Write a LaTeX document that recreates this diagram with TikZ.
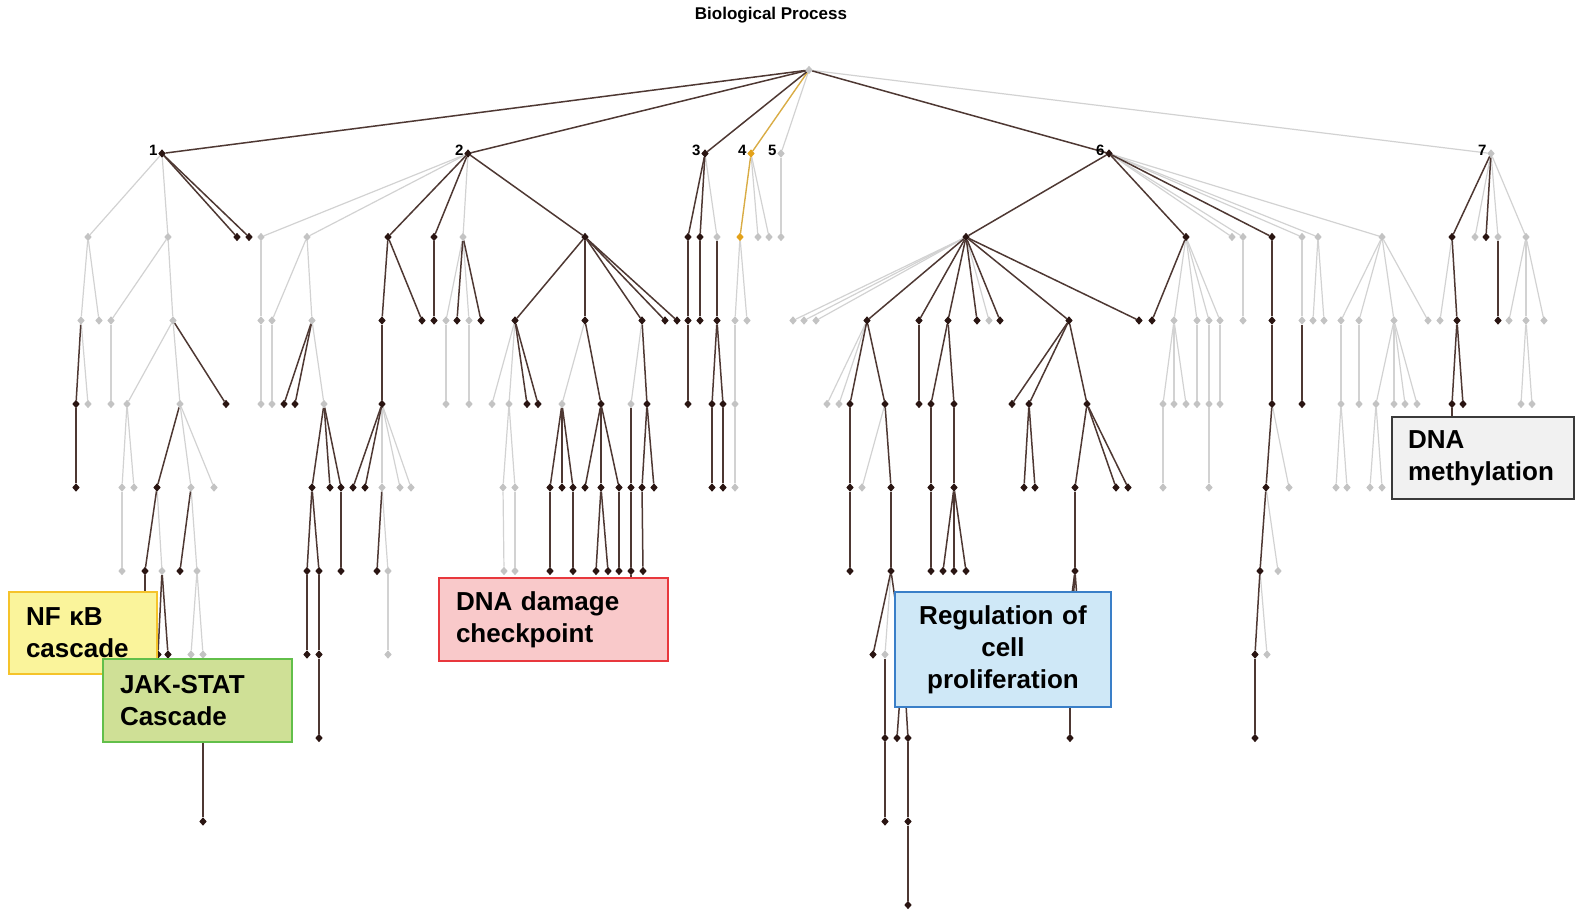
\documentclass[tikz,border=0pt]{standalone}
\usepackage{fontspec}
\setmainfont{Liberation Sans}
\usetikzlibrary{shapes.geometric,backgrounds}
\definecolor{dkn}{HTML}{2A1512}
\definecolor{dke}{HTML}{4E3833}
\definecolor{gyn}{HTML}{C3C3C3}
\definecolor{gye}{HTML}{D2D2D2}
\definecolor{orn}{HTML}{E3A21A}
\definecolor{ore}{HTML}{D9AC45}
\definecolor{nff}{HTML}{FAF49B}
\definecolor{nfb}{HTML}{F5C32A}
\definecolor{jkf}{HTML}{CFE096}
\definecolor{jkb}{HTML}{62BF4A}
\definecolor{ddf}{HTML}{F9C9CA}
\definecolor{ddb}{HTML}{E8383D}
\definecolor{rgf}{HTML}{CFE8F7}
\definecolor{rgb}{HTML}{3A7FC8}
\definecolor{dmf}{HTML}{F1F1F1}
\definecolor{dmb}{HTML}{3A3A3A}
\tikzset{
  nd/.style={shape=diamond, inner sep=0pt, minimum width=7.5pt, minimum height=8.5pt, draw=none},
  dkN/.style={nd, fill=dkn},
  gyN/.style={nd, fill=gyn},
  orN/.style={nd, fill=orn},
  deE/.style={draw=dke, line width=1.5pt},
  gyE/.style={draw=gye, line width=1.2pt},
  orE/.style={draw=ore, line width=1.4pt},
  lvl/.style={font=\bfseries\fontsize{15}{15}\selectfont, text=black, inner sep=0pt, anchor=east},
  ann/.style={font=\bfseries\fontsize{26}{32}\selectfont, line width=1.3pt, inner ysep=0pt, text=black}
}
\newcommand{\mkn}[4]{\node[#1] (#2) at (#3,#4) {};}
\begin{document}
\begin{tikzpicture}[x=1pt, y=-83.5pt]
\useasboundingbox (0pt,70pt) rectangle (1575pt,-841pt);
\node[font=\bfseries\fontsize{17}{17}\selectfont] (title) at (771pt,55pt) {Biological Process};
% root and level 1
\mkn{gyN}{r}{809}{0}
\mkn{dkN}{n1}{162}{1}
\mkn{dkN}{n2}{468}{1}
\mkn{dkN}{n3}{705}{1}
\mkn{orN}{n4}{751}{1}
\mkn{gyN}{n5}{781}{1}
\mkn{dkN}{n6}{1109}{1}
\mkn{gyN}{n7}{1491}{1}
\foreach \n/\t in {n1/1,n2/2,n3/3,n4/4,n5/5,n6/6,n7/7}
  \node[lvl] (lab\t) at ([xshift=-0.5pt,yshift=3.5pt]\n.west) {\t};
% subtree 1
\mkn{gyN}{a1}{88}{2}\mkn{gyN}{a2}{168}{2}\mkn{dkN}{a3}{237}{2}\mkn{dkN}{a4}{249}{2}
\mkn{gyN}{a11}{81}{3}\mkn{gyN}{a12}{99}{3}\mkn{gyN}{a21}{111}{3}\mkn{gyN}{a22}{173}{3}
\mkn{dkN}{a111}{76}{4}\mkn{gyN}{a112}{88}{4}\mkn{gyN}{a211}{111}{4}\mkn{gyN}{a221}{127}{4}\mkn{gyN}{a222}{180}{4}\mkn{dkN}{a223}{226}{4}
\mkn{dkN}{a1111}{76}{5}\mkn{gyN}{a2211}{122}{5}\mkn{gyN}{a2212}{134}{5}\mkn{dkN}{a2221}{157}{5}\mkn{gyN}{a2222}{191}{5}\mkn{gyN}{a2223}{214}{5}
\mkn{gyN}{p1}{122}{6}\mkn{dkN}{p2}{145}{6}\mkn{gyN}{p3}{162}{6}\mkn{dkN}{p4}{180}{6}\mkn{gyN}{p5}{197}{6}
\mkn{dkN}{q1}{145}{7}\mkn{dkN}{q2}{158}{7}\mkn{dkN}{q3}{168}{7}\mkn{gyN}{q4}{191}{7}\mkn{gyN}{q5}{203}{7}
\mkn{dkN}{q51}{203}{8}\mkn{dkN}{q511}{203}{9}
% subtree 2
\mkn{gyN}{b1}{261}{2}\mkn{gyN}{b2}{307}{2}\mkn{dkN}{b3}{388}{2}\mkn{dkN}{b4}{434}{2}\mkn{gyN}{b5}{463}{2}\mkn{dkN}{b6}{585}{2}
\mkn{gyN}{b11}{261}{3}\mkn{gyN}{b21}{272}{3}\mkn{gyN}{b22}{312}{3}\mkn{dkN}{b31}{382}{3}\mkn{dkN}{b32}{422}{3}\mkn{dkN}{b41}{434}{3}
\mkn{gyN}{b51}{446}{3}\mkn{dkN}{b52}{457}{3}\mkn{gyN}{b53}{469}{3}\mkn{dkN}{b54}{481}{3}
\mkn{dkN}{b61}{515}{3}\mkn{dkN}{b62}{585}{3}\mkn{dkN}{b63}{642}{3}\mkn{dkN}{b64}{665}{3}\mkn{dkN}{b65}{677}{3}
\mkn{gyN}{b111}{261}{4}\mkn{gyN}{b211}{272}{4}\mkn{dkN}{b221}{284}{4}\mkn{dkN}{b222}{295}{4}\mkn{gyN}{b223}{324}{4}\mkn{dkN}{b311}{382}{4}
\mkn{gyN}{b511}{446}{4}\mkn{gyN}{b531}{469}{4}\mkn{gyN}{b611}{492}{4}\mkn{gyN}{b612}{509}{4}\mkn{dkN}{b613}{527}{4}\mkn{dkN}{b614}{538}{4}
\mkn{gyN}{b621}{562}{4}\mkn{dkN}{b622}{601}{4}\mkn{gyN}{b631}{631}{4}\mkn{dkN}{b632}{647}{4}
\mkn{dkN}{c5a}{312}{5}\mkn{dkN}{c5b}{330}{5}\mkn{dkN}{c5c}{341}{5}\mkn{dkN}{c5d}{353}{5}\mkn{dkN}{c5e}{365}{5}
\mkn{gyN}{c5f}{382}{5}\mkn{gyN}{c5g}{400}{5}\mkn{gyN}{c5h}{411}{5}\mkn{gyN}{c5i}{503}{5}\mkn{gyN}{c5j}{515}{5}
\mkn{dkN}{c5k}{550}{5}\mkn{dkN}{c5l}{562}{5}\mkn{dkN}{c5m}{573}{5}\mkn{dkN}{c5n}{585}{5}\mkn{dkN}{c5o}{601}{5}\mkn{dkN}{c5p}{619}{5}
\mkn{dkN}{c5q}{631}{5}\mkn{dkN}{c5r}{642}{5}\mkn{dkN}{c5s}{654}{5}
\mkn{dkN}{c6a}{307}{6}\mkn{dkN}{c6b}{319}{6}\mkn{dkN}{c6c}{341}{6}\mkn{dkN}{c6d}{377}{6}\mkn{gyN}{c6e}{388}{6}
\mkn{gyN}{c6f}{504}{6}\mkn{gyN}{c6g}{515}{6}\mkn{dkN}{c6h}{550}{6}\mkn{dkN}{c6i}{573}{6}\mkn{dkN}{c6j}{596}{6}\mkn{dkN}{c6k}{608}{6}
\mkn{dkN}{c6l}{619}{6}\mkn{dkN}{c6m}{631}{6}\mkn{dkN}{c6n}{643}{6}
\mkn{dkN}{c7a}{307}{7}\mkn{dkN}{c7b}{319}{7}\mkn{gyN}{c7c}{388}{7}\mkn{dkN}{c7d}{631}{7}
\mkn{dkN}{c8a}{319}{8}
% subtree 3
\mkn{dkN}{d1}{688}{2}\mkn{dkN}{d2}{700}{2}\mkn{gyN}{d3}{717}{2}
\mkn{dkN}{d11}{688}{3}\mkn{dkN}{d21}{700}{3}\mkn{dkN}{d31}{717}{3}
\mkn{dkN}{d111}{688}{4}\mkn{dkN}{d311}{712}{4}\mkn{dkN}{d312}{723}{4}
\mkn{dkN}{d3111}{712}{5}\mkn{dkN}{d3121}{723}{5}
% subtree 4 and 5
\mkn{orN}{e1}{740}{2}\mkn{gyN}{e2}{758}{2}\mkn{gyN}{e3}{769}{2}
\mkn{gyN}{e11}{735}{3}\mkn{gyN}{e12}{747}{3}\mkn{gyN}{e111}{735}{4}\mkn{gyN}{e1111}{735}{5}
\mkn{gyN}{f1}{781}{2}
% subtree 6
\mkn{dkN}{g1}{966}{2}\mkn{dkN}{g2}{1186}{2}\mkn{gyN}{g3}{1232}{2}\mkn{gyN}{g4}{1243}{2}\mkn{dkN}{g5}{1272}{2}
\mkn{gyN}{g6}{1302}{2}\mkn{gyN}{g7}{1318}{2}\mkn{gyN}{g8}{1382}{2}
\mkn{gyN}{h1}{793}{3}\mkn{gyN}{h2}{804}{3}\mkn{gyN}{h3}{816}{3}\mkn{dkN}{h4}{867}{3}\mkn{dkN}{h5}{919}{3}\mkn{dkN}{h6}{948}{3}
\mkn{dkN}{h7}{977}{3}\mkn{gyN}{h8}{989}{3}\mkn{dkN}{h9}{1000}{3}\mkn{dkN}{h10}{1069}{3}\mkn{dkN}{h11}{1139}{3}
\mkn{dkN}{i1}{1152}{3}\mkn{gyN}{i2}{1174}{3}\mkn{gyN}{i3}{1197}{3}\mkn{gyN}{i4}{1209}{3}\mkn{gyN}{i5}{1220}{3}
\mkn{gyN}{j1}{1243}{3}\mkn{dkN}{k1}{1272}{3}\mkn{gyN}{l1}{1302}{3}\mkn{gyN}{m1}{1313}{3}\mkn{gyN}{m2}{1324}{3}
\mkn{gyN}{o1}{1341}{3}\mkn{gyN}{o2}{1359}{3}\mkn{gyN}{o3}{1394}{3}\mkn{gyN}{o4}{1428}{3}
\mkn{gyN}{h41}{827}{4}\mkn{gyN}{h42}{839}{4}\mkn{dkN}{h43}{850}{4}\mkn{dkN}{h44}{885}{4}\mkn{dkN}{h51}{919}{4}
\mkn{dkN}{h61}{931}{4}\mkn{dkN}{h62}{954}{4}\mkn{dkN}{h101}{1012}{4}\mkn{dkN}{h102}{1029}{4}\mkn{dkN}{h103}{1087}{4}
\mkn{gyN}{i21}{1163}{4}\mkn{gyN}{i22}{1174}{4}\mkn{gyN}{i23}{1186}{4}\mkn{gyN}{i31}{1197}{4}\mkn{gyN}{i41}{1209}{4}\mkn{gyN}{i51}{1220}{4}
\mkn{dkN}{k11}{1272}{4}\mkn{dkN}{l11}{1302}{4}\mkn{gyN}{o11}{1341}{4}\mkn{gyN}{o21}{1359}{4}
\mkn{gyN}{o31}{1376}{4}\mkn{gyN}{o32}{1394}{4}\mkn{gyN}{o33}{1405}{4}\mkn{gyN}{o34}{1417}{4}
\mkn{dkN}{h431}{850}{5}\mkn{gyN}{h441}{862}{5}\mkn{dkN}{h442}{891}{5}\mkn{dkN}{h611}{931}{5}\mkn{dkN}{h621}{954}{5}
\mkn{dkN}{h1021}{1024}{5}\mkn{dkN}{h1022}{1035}{5}\mkn{dkN}{h1031}{1075}{5}\mkn{dkN}{h1032}{1116}{5}\mkn{dkN}{h1033}{1128}{5}
\mkn{gyN}{i211}{1163}{5}\mkn{gyN}{i411}{1209}{5}\mkn{dkN}{k111}{1266}{5}\mkn{gyN}{k112}{1289}{5}
\mkn{gyN}{o111}{1336}{5}\mkn{gyN}{o112}{1347}{5}\mkn{gyN}{o311}{1370}{5}\mkn{gyN}{o312}{1382}{5}
\mkn{dkN}{h4311}{850}{6}\mkn{dkN}{h4421}{891}{6}\mkn{dkN}{h6111}{931}{6}\mkn{dkN}{h6211}{943}{6}\mkn{dkN}{h6212}{954}{6}\mkn{dkN}{h6213}{966}{6}
\mkn{dkN}{h10311}{1075}{6}\mkn{dkN}{k1111}{1260}{6}\mkn{gyN}{k1112}{1278}{6}
\mkn{dkN}{s1}{873}{7}\mkn{gyN}{s2}{885}{7}\mkn{dkN}{s3}{903}{7}\mkn{dkN}{t1}{1064}{7}\mkn{dkN}{t2}{1070}{7}\mkn{dkN}{t3}{1081}{7}
\mkn{dkN}{u1}{1255}{7}\mkn{gyN}{u2}{1267}{7}
\mkn{dkN}{s21}{885}{8}\mkn{dkN}{s31}{897}{8}\mkn{dkN}{s32}{908}{8}\mkn{dkN}{t21}{1070}{8}\mkn{dkN}{u11}{1255}{8}
\mkn{dkN}{s211}{885}{9}\mkn{dkN}{s321}{908}{9}\mkn{dkN}{s3211}{908}{10}
% subtree 7
\mkn{dkN}{w1}{1452}{2}\mkn{gyN}{w2}{1475}{2}\mkn{dkN}{w3}{1486}{2}\mkn{gyN}{w4}{1498}{2}\mkn{gyN}{w5}{1526}{2}
\mkn{gyN}{w11}{1440}{3}\mkn{dkN}{w12}{1457}{3}\mkn{dkN}{w41}{1498}{3}\mkn{gyN}{w51}{1509}{3}\mkn{gyN}{w52}{1526}{3}\mkn{gyN}{w53}{1544}{3}
\mkn{dkN}{w121}{1452}{4}\mkn{dkN}{w122}{1463}{4}\mkn{gyN}{w521}{1521}{4}\mkn{gyN}{w522}{1532}{4}
\mkn{dkN}{w1211}{1452}{5}
% edges
\begin{pgfonlayer}{background}
\foreach \a/\b in {r/n5,r/n7,
 n1/a1,n1/a2,a1/a11,a1/a12,a2/a21,a2/a22,a11/a112,a21/a211,a22/a221,a22/a222,
 a221/a2211,a221/a2212,a222/a2222,a222/a2223,a2211/p1,a2221/p3,a2222/p5,p5/q4,p5/q5,
 n2/b1,n2/b2,n2/b5,b1/b11,b2/b21,b2/b22,b5/b51,b5/b53,
 b11/b111,b21/b211,b22/b223,b51/b511,b53/b531,b61/b611,b61/b612,b62/b621,b63/b631,
 b311/c5f,b311/c5g,b311/c5h,b612/c5i,b612/c5j,c5f/c6e,c5i/c6f,c5j/c6g,c6e/c7c,
 n3/d3,n4/e2,n4/e3,e1/e11,e1/e12,e11/e111,e111/e1111,n5/f1,
 n6/g3,n6/g4,n6/g6,n6/g7,n6/g8,g1/h1,g1/h2,g1/h3,g1/h8,
 g2/i2,g2/i3,g2/i4,g2/i5,g4/j1,g6/l1,g7/m1,g7/m2,g8/o1,g8/o2,g8/o3,g8/o4,
 h4/h41,h4/h42,i2/i21,i2/i22,i2/i23,i3/i31,i4/i41,i5/i51,o1/o11,o2/o21,o3/o31,o3/o32,o3/o33,o3/o34,
 h44/h441,i21/i211,i41/i411,k11/k112,o11/o111,o11/o112,o31/o311,o31/o312,
 k111/k1112,h4421/s2,k1111/u2,
 n7/w2,n7/w4,n7/w5,w1/w11,w5/w51,w5/w52,w5/w53,w52/w521,w52/w522}
  \draw[gyE] (\a) -- (\b);
\foreach \a/\b in {r/n4,n4/e1}
  \draw[orE] (\a) -- (\b);
\foreach \a/\b in {r/n1,r/n2,r/n3,r/n6,
 n1/a3,n1/a4,a11/a111,a22/a223,a111/a1111,a222/a2221,
 a2221/p2,a2222/p4,p2/q1,p3/q2,p3/q3,q5/q51,q51/q511,
 n2/b3,n2/b4,n2/b6,b3/b31,b3/b32,b4/b41,b5/b52,b5/b54,b6/b61,b6/b62,b6/b63,b6/b64,b6/b65,
 b22/b221,b22/b222,b31/b311,b61/b613,b61/b614,b62/b622,b63/b632,
 b223/c5a,b223/c5b,b223/c5c,b311/c5d,b311/c5e,b621/c5k,b621/c5l,b621/c5m,b622/c5n,b622/c5o,b622/c5p,b631/c5q,b632/c5r,b632/c5s,
 c5a/c6a,c5a/c6b,c5c/c6c,c5f/c6d,c5k/c6h,c5m/c6i,c5o/c6j,c5o/c6k,c5p/c6l,c5q/c6m,c5r/c6n,
 c6a/c7a,c6b/c7b,c6m/c7d,c7b/c8a,
 n3/d1,n3/d2,d1/d11,d2/d21,d3/d31,d11/d111,d31/d311,d31/d312,d311/d3111,d312/d3121,
 n6/g1,n6/g2,n6/g5,g1/h4,g1/h5,g1/h6,g1/h7,g1/h9,g1/h10,g1/h11,g2/i1,g5/k1,
 h4/h43,h4/h44,h5/h51,h6/h61,h6/h62,h10/h101,h10/h102,h10/h103,k1/k11,l1/l11,
 h43/h431,h44/h442,h61/h611,h62/h621,h102/h1021,h102/h1022,h103/h1031,h103/h1032,h103/h1033,k11/k111,
 h431/h4311,h442/h4421,h611/h6111,h621/h6211,h621/h6212,h621/h6213,h1031/h10311,k111/k1111,
 h4421/s1,h4421/s3,h10311/t1,h10311/t2,h10311/t3,k1111/u1,
 s2/s21,s3/s31,s3/s32,t2/t21,u1/u11,s21/s211,s32/s321,s321/s3211,
 n7/w1,n7/w3,w1/w12,w4/w41,w12/w121,w12/w122,w121/w1211}
  \draw[deE] (\a) -- (\b);
\end{pgfonlayer}
% annotation boxes
\node[ann, draw=nfb, fill=nff, minimum height=82pt, text width=114pt, inner xsep=17pt, align=left] (nfkb) at (83pt,-563pt) {NF κB\\cascade};
\node[ann, draw=jkb, fill=jkf, minimum height=83pt, text width=155pt, inner xsep=17pt, align=left] (jak) at (197.5pt,-630.5pt) {JAK-STAT\\Cascade};
\node[ann, draw=ddb, fill=ddf, minimum height=83pt, text width=195pt, inner xsep=17pt, align=left] (dnad) at (553.5pt,-549.5pt) {DNA damage\\checkpoint};
\node[ann, draw=rgb, fill=rgf, minimum height=115pt, text width=196pt, inner xsep=10pt, align=center] (reg) at (1003pt,-579.5pt) {Regulation of\\cell\\proliferation};
\node[ann, draw=dmb, fill=dmf, line width=2pt, minimum height=82pt, text width=150pt, inner xsep=16pt, align=left] (meth) at (1483pt,-388pt) {DNA\\methylation};
\end{tikzpicture}
\end{document}
